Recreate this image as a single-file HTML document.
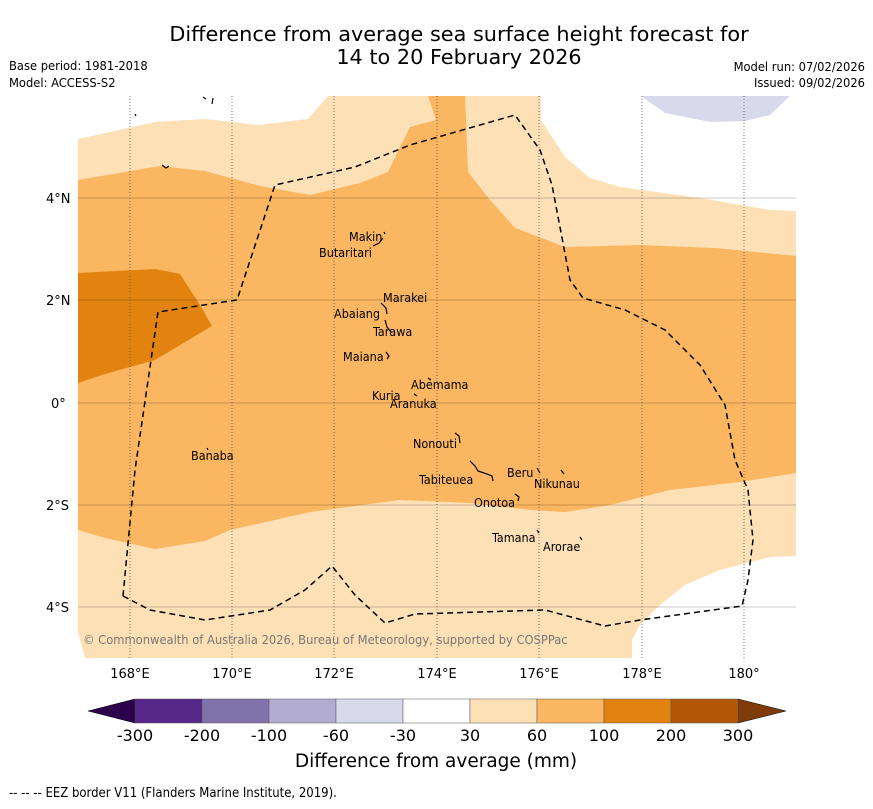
<!DOCTYPE html>
<html><head><meta charset="utf-8"><style>
body{margin:0;background:#fff;font-family:"Liberation Sans","DejaVu Sans",sans-serif}
svg text{font-family:"DejaVu Sans","Liberation Sans",sans-serif}
.cond{font-family:"DejaVu Sans Condensed","DejaVu Sans","Liberation Sans Narrow",sans-serif;font-stretch:condensed}
</style></head><body>
<svg width="873" height="804" xmlns="http://www.w3.org/2000/svg">
<text x="459" y="41" font-size="20.8" text-anchor="middle">Difference from average sea surface height forecast for</text>
<text x="459" y="64" font-size="20.8" text-anchor="middle">14 to 20 February 2026</text>
<text x="9" y="70" font-size="12.8" class="cond">Base period: 1981-2018</text>
<text x="9" y="87" font-size="12.8" class="cond">Model: ACCESS-S2</text>
<text x="865" y="71" font-size="12.8" class="cond" text-anchor="end">Model run: 07/02/2026</text>
<text x="865" y="87" font-size="12.8" class="cond" text-anchor="end">Issued: 09/02/2026</text>
<defs><clipPath id="mc"><rect x="78" y="96" width="718" height="562"/></clipPath></defs>
<g clip-path="url(#mc)">
<rect x="78" y="96" width="718" height="562" fill="#fff"/>
<polygon fill="#fde0b6" points="78,139 155,122 205,119 258,125 308,119 328,96 541,96 541,120 565,157 590,178 620,187 700,198 770,210 796,211 796,556 770,557 720,570 685,585 660,605 640,625 632,640 632,658 85,658 78,632"/>
<polygon fill="#fab660" points="78,180 160,166 205,171 260,186 310,195 360,183 388,172 410,127 436,120 428,96 465,96 468,172 490,200 515,228 565,247 640,245 715,248 796,256 796,473 740,482 670,490 610,505 565,512 530,510 470,503 400,500 310,512 230,530 205,541 155,549 105,538 78,530"/>
<polygon fill="#e2830f" points="78,273 155,269 180,274 200,305 212,326 155,360 105,374 78,383"/>
<polygon fill="#d8d9eb" points="641,96 665,113 710,122 745,121 770,115 790,96"/>
<g stroke="#555" stroke-width="0.8" stroke-dasharray="1,2">
<line x1="130" y1="96" x2="130" y2="658"/><line x1="232" y1="96" x2="232" y2="658"/><line x1="334" y1="96" x2="334" y2="658"/><line x1="437" y1="96" x2="437" y2="658"/><line x1="539" y1="96" x2="539" y2="658"/><line x1="642" y1="96" x2="642" y2="658"/><line x1="744" y1="96" x2="744" y2="658"/>
</g>
<g stroke="#000" stroke-opacity="0.2" stroke-width="1">
<line x1="78" y1="198" x2="796" y2="198"/><line x1="78" y1="300" x2="796" y2="300"/><line x1="78" y1="403" x2="796" y2="403"/><line x1="78" y1="505" x2="796" y2="505"/><line x1="78" y1="607" x2="796" y2="607"/>
</g>
<polyline fill="none" stroke="#000" stroke-width="1.5" stroke-dasharray="6,4" points="123,596 135,470 158,312 237,300 275,185 355,167 410,145 515,115 540,150 552,185 570,280 583,298 625,310 665,330 700,365 725,405 735,460 748,490 753,540 748,580 742,606 640,620 605,626 545,610 415,614 385,623 355,595 332,566 305,590 270,610 205,620 150,610 123,596"/>
<g stroke="#000" stroke-width="1.2" fill="none">
<path d="M373,246 l6,-3 l4,-5 M384,232 l1,2"/><path d="M381,303 l5,5 l1,6"/><path d="M385,320 l2,7 l4,5"/><path d="M386,352 l3,4 l-2,3"/>
<path d="M428,378 l3,2 M414,394 l3,2"/><path d="M455,433 l4,3 l1,7"/><path d="M470,461 l5,5 l3,5 l6,2 l8,3 l1,5"/><path d="M537,468 l3,5 M561,470 l3,4"/><path d="M515,494 l4,3 l-1,4"/><path d="M537,530 l2,3 M580,537 l2,3"/><path d="M207,448 l1,2"/>
<path d="M203,97 l3,2 M213,98 l-1,6 M135,114 l1,2 M162,165 l4,3 l3,-2"/>
</g>
<g font-size="12.5" fill="#000" class="cond">
<text x="349" y="241">Makin</text><text x="319" y="257">Butaritari</text>
<text x="383" y="302">Marakei</text><text x="334" y="318">Abaiang</text>
<text x="373" y="336">Tarawa</text><text x="343" y="361">Maiana</text>
<text x="411" y="389">Abemama</text><text x="372" y="400">Kuria</text>
<text x="390" y="408">Aranuka</text><text x="413" y="448">Nonouti</text>
<text x="191" y="460">Banaba</text><text x="507" y="477">Beru</text>
<text x="419" y="484">Tabiteuea</text><text x="534" y="488">Nikunau</text>
<text x="474" y="507">Onotoa</text><text x="492" y="542">Tamana</text>
<text x="543" y="551">Arorae</text>
</g>
<text x="83" y="644" font-size="12.8" fill="#777" class="cond">© Commonwealth of Australia 2026, Bureau of Meteorology, supported by COSPPac</text>
</g>
<g font-size="13">
<text x="46" y="203">4°N</text><text x="46" y="305">2°N</text><text x="51" y="408">0°</text><text x="46" y="510">2°S</text><text x="46" y="612">4°S</text>
<text x="130" y="678" text-anchor="middle">168°E</text><text x="232" y="678" text-anchor="middle">170°E</text><text x="334" y="678" text-anchor="middle">172°E</text><text x="437" y="678" text-anchor="middle">174°E</text><text x="539" y="678" text-anchor="middle">176°E</text><text x="642" y="678" text-anchor="middle">178°E</text><text x="744" y="678" text-anchor="middle">180°</text>
</g>
<g id="cbar"></g>
<text x="436" y="767" font-size="18.5" text-anchor="middle">Difference from average (mm)</text>
<text x="9" y="797" font-size="13" class="cond">--  --  -- EEZ border V11 (Flanders Marine Institute, 2019).</text>
</svg>
<script>
const cbTicks=["-300","-200","-100","-60","-30","30","60","100","200","300"];
const cbColors=["#542788","#8073ac","#b2abd2","#d8d9eb","#ffffff","#fde0b6","#fab660","#e2830f","#b35806"];
const ns="http://www.w3.org/2000/svg";
const g=document.getElementById('cbar');
const x0=135,x1=738,y0=699,h=24,w=(x1-x0)/cbColors.length;
function mk(t,a){const e=document.createElementNS(ns,t);for(const k in a)e.setAttribute(k,a[k]);g.appendChild(e);return e;}
let l=mk('polygon',{points:`${x0},${y0} ${x0-47},${y0+h/2} ${x0},${y0+h}`,fill:'#2d004b',stroke:'#000','stroke-width':0.5});


let r=mk('polygon',{points:`${x1},${y0} ${x1+48},${y0+h/2} ${x1},${y0+h}`,fill:'#7f3b08',stroke:'#000','stroke-width':0.5});


cbColors.forEach((c,i)=>{const e=mk('rect',{x:x0+i*w,y:y0,width:w,height:h,fill:c,stroke:'#555','stroke-width':0.5});

});
cbTicks.forEach((t,i)=>{const e=mk('text',{x:x0+i*w,y:741,'font-size':16,'text-anchor':'middle'});e.textContent=t;

});
</script>
</body></html>
